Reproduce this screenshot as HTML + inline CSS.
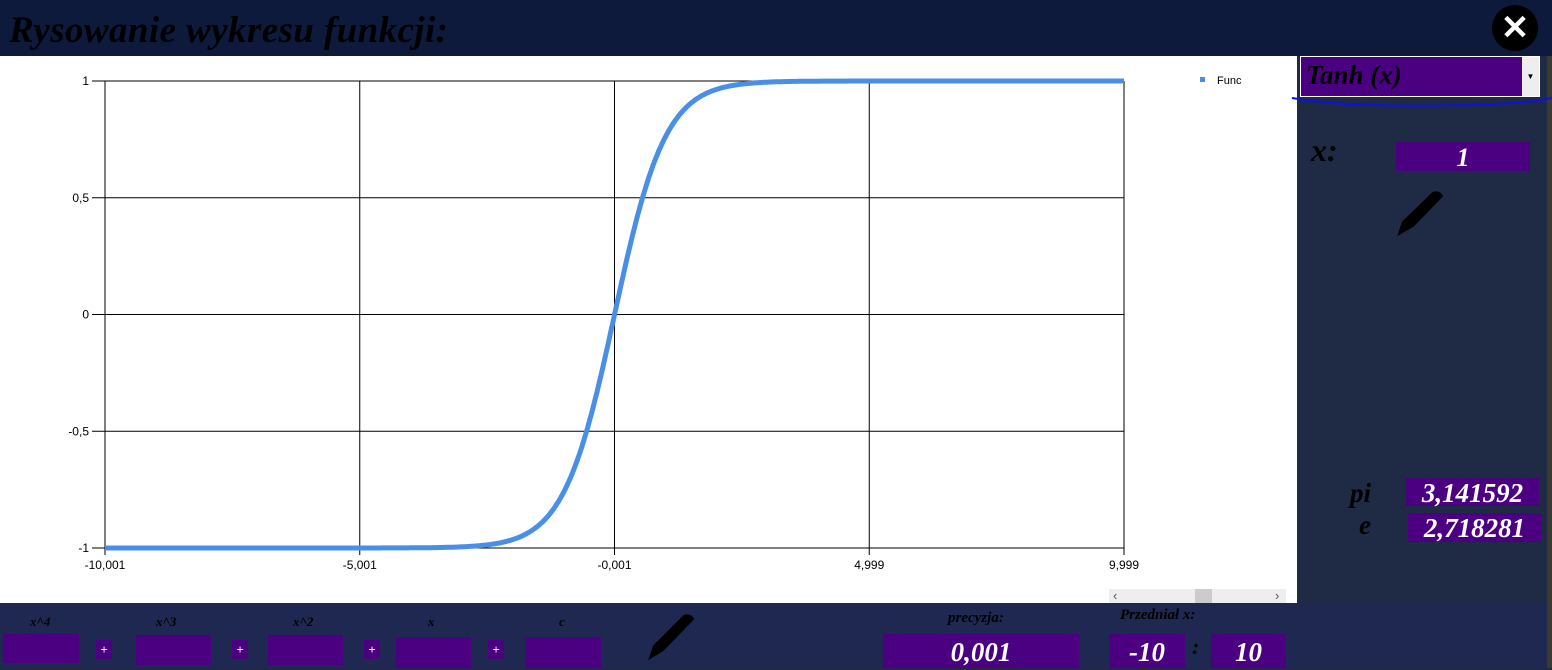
<!DOCTYPE html>
<html><head><meta charset="utf-8">
<style>
html,body{margin:0;padding:0;width:1552px;height:668px;overflow:hidden;background:#1f2a45;font-family:"Liberation Serif",serif;}
.abs{position:absolute;}
.pb{position:absolute;background:#4b0082;color:#fff;font-style:italic;font-weight:bold;text-align:center;}
.lbl{position:absolute;color:#000;font-style:italic;font-weight:bold;}
</style></head><body>
<div class="abs" style="left:0;top:0;width:1552px;height:56px;background:#0e1a3c;"></div>
<div class="lbl" style="left:9px;top:9px;font-size:37px;letter-spacing:0.4px;">Rysowanie wykresu funkcji:</div>
<div class="abs" style="left:1492px;top:5px;width:46px;height:46px;border-radius:50%;background:#000;color:#fff;font:bold 34px 'Liberation Sans',sans-serif;text-align:center;line-height:46px;">✕</div>
<div class="abs" style="left:0;top:56px;width:1297px;height:547px;background:#fff;"></div>
<svg class="abs" style="left:0;top:56px;" width="1297" height="547" id="chart"></svg>
<div class="abs" style="left:1109px;top:589px;width:177px;height:15px;background:#eee;">
 <div class="abs" style="left:4px;top:-1px;font:13px 'Liberation Sans';color:#555;">‹</div>
 <div class="abs" style="left:86px;top:0;width:17px;height:15px;background:#ccc;"></div>
 <div class="abs" style="left:166px;top:-1px;font:13px 'Liberation Sans';color:#555;">›</div>
</div>
<div class="abs" style="left:1297px;top:56px;width:250px;height:547px;background:#1f2a45;"></div>
<div class="abs" style="left:1547px;top:56px;width:5px;height:612px;background:#3a3a30;"></div>
<div class="abs" style="left:1300px;top:56px;width:238px;height:39px;border:1px solid #fff;background:#4b0082;">
 <div class="lbl" style="left:5px;top:3px;font-size:27px;">Tanh (x)</div>
 <div class="abs" style="left:221px;top:0;width:17px;height:39px;background:#eee;color:#000;font-size:8px;text-align:center;line-height:39px;">▼</div>
</div>
<svg class="abs" style="left:1290px;top:90px;" width="262" height="30"><path d="M2 8 Q60 18 180 15 Q240 13 262 8" stroke="#1010e0" stroke-width="2" fill="none"/></svg>
<div class="lbl" style="left:1311px;top:132px;font-size:32px;">x:</div>
<div class="pb" style="left:1396px;top:142px;width:134px;height:29px;font-size:26px;line-height:32px;">1</div>
<svg class="abs" style="left:1393px;top:190px;" width="52" height="48"><path d="M6 44 L10 32 L40 3 Q46 1 49 6 L20 36 Z" fill="#000" stroke="#000" stroke-width="2"/></svg>
<div class="lbl" style="left:1350px;top:478px;font-size:27px;">pi</div>
<div class="pb" style="left:1406px;top:478px;width:133px;height:28px;font-size:27px;line-height:30px;">3,141592</div>
<div class="lbl" style="left:1359px;top:510px;font-size:27px;">e</div>
<div class="pb" style="left:1408px;top:513px;width:133px;height:29px;font-size:27px;line-height:30px;">2,718281</div>
<div class="abs" style="left:0;top:603px;width:1547px;height:65px;background:#1e2850;"></div>
<div class="lbl" style="left:30px;top:614px;font-size:13px;">x^4</div>
<div class="lbl" style="left:156px;top:614px;font-size:13px;">x^3</div>
<div class="lbl" style="left:293px;top:614px;font-size:13px;">x^2</div>
<div class="lbl" style="left:428px;top:614px;font-size:13px;">x</div>
<div class="lbl" style="left:559px;top:614px;font-size:13px;">c</div>
<div class="pb" style="left:3px;top:634px;width:76px;height:29px;"></div>
<div class="pb" style="left:136px;top:635px;width:75px;height:30px;"></div>
<div class="pb" style="left:268px;top:635px;width:75px;height:30px;"></div>
<div class="pb" style="left:396px;top:637px;width:75px;height:31px;"></div>
<div class="pb" style="left:525px;top:637px;width:76px;height:31px;"></div>
<div class="pb" style="left:96px;top:640px;width:16px;height:19px;font-size:13px;line-height:19px;">+</div>
<div class="pb" style="left:232px;top:640px;width:16px;height:19px;font-size:13px;line-height:19px;">+</div>
<div class="pb" style="left:364px;top:640px;width:16px;height:19px;font-size:13px;line-height:19px;">+</div>
<div class="pb" style="left:488px;top:640px;width:16px;height:19px;font-size:13px;line-height:19px;">+</div>
<svg class="abs" style="left:644px;top:612px;" width="52" height="50"><path d="M6 46 L10 34 L40 4 Q46 2 49 7 L19 38 Z" fill="#000" stroke="#000" stroke-width="2"/></svg>
<div class="lbl" style="left:948px;top:610px;font-size:15px;">precyzja:</div>
<div class="pb" style="left:883px;top:634px;width:196px;height:34px;font-size:27px;line-height:36px;">0,001</div>
<div class="lbl" style="left:1120px;top:607px;font-size:15px;">Przedniał x:</div>
<div class="pb" style="left:1109px;top:634px;width:76px;height:34px;font-size:27px;line-height:36px;">-10</div>
<div class="lbl" style="left:1192px;top:634px;font-size:22px;">:</div>
<div class="pb" style="left:1211px;top:634px;width:75px;height:34px;font-size:27px;line-height:36px;">10</div>
<script>
const xRange=[-10.001,9.999];
const step=0.001;
const yTicks=[1,0.5,0,-0.5,-1];
const yTickLabels=["1","0,5","0","-0,5","-1"];
const xTickValues=[-10.001,-5.001,-0.001,4.999,9.999];
const xTickLabels=["-10,001","-5,001","-0,001","4,999","9,999"];
const seriesName="Func";
const NS="http://www.w3.org/2000/svg";
const svg=document.getElementById('chart');
const L=105,R=1124,T=25,B=492;
const xs=v=>L+(v-xRange[0])/(xRange[1]-xRange[0])*(R-L);
const ys=v=>B-(v+1)/2*(B-T);
function mk(t,a){const e=document.createElementNS(NS,t);for(const k in a)e.setAttribute(k,a[k]);svg.appendChild(e);return e;}
yTicks.forEach((v,i)=>{
 const g=mk('line',{x1:92,x2:R,y1:ys(v),y2:ys(v),stroke:'#000','stroke-width':1});
 
 
 const t=mk('text',{x:89,y:ys(v)+4,'text-anchor':'end','font-family':'Liberation Sans','font-size':12});
 t.textContent=yTickLabels[i];
 
 
});
xTickValues.forEach((v,i)=>{
 const g=mk('line',{x1:xs(v),x2:xs(v),y1:T,y2:B+7,stroke:'#000','stroke-width':1});
 
 
 const t=mk('text',{x:xs(v),y:B+21,'text-anchor':'middle','font-family':'Liberation Sans','font-size':12});
 t.textContent=xTickLabels[i];
 
 
});
let d='';
const n=Math.round((xRange[1]-xRange[0])/0.02);
for(let i=0;i<=n;i++){const x=xRange[0]+i*(xRange[1]-xRange[0])/n;d+=(i?'L':'M')+xs(x).toFixed(1)+' '+ys(Math.tanh(x)).toFixed(1);}
const p=mk('path',{d:d,fill:'none',stroke:'#4a8fe7','stroke-width':5});


const lr=mk('rect',{x:1200,y:21,width:5,height:5,fill:'#4a8fe7'});


const lt=mk('text',{x:1217,y:28,'font-family':'Liberation Sans','font-size':11});
lt.textContent=seriesName;


</script>
</body></html>
